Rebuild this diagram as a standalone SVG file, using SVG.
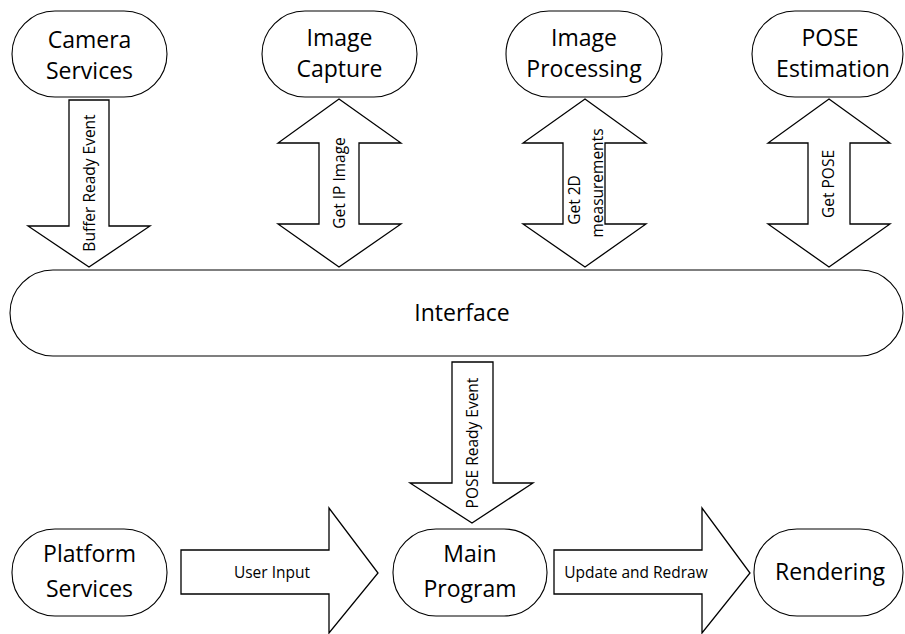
<svg xmlns="http://www.w3.org/2000/svg" width="905" height="634" viewBox="0 0 905 634">
<style>
.n{fill:#fff;stroke:#000;stroke-width:1.1}
.a{fill:#fff;stroke:#000;stroke-width:1.3;stroke-linejoin:miter}
.t{font-family:"Open Sans","Liberation Sans",sans-serif;font-size:23px;fill:#000;text-anchor:middle}
.l{font-family:"Open Sans","Liberation Sans",sans-serif;font-size:15.5px;fill:#000;text-anchor:middle}
</style>
<rect width="905" height="634" fill="#fff"/>
<g id="connectors">
<g id="buffer-ready">
<polygon class="a" points="69,100 109,100 109,226 150,226 89,267 28,226 69,226"/>
<text class="l" transform="translate(95,183) rotate(-90)">Buffer Ready Event</text>
</g>
<g id="get-ip-image">
<polygon class="a" points="339,99 401,143 359,143 359,224 401,224 339,267 278,224 319,224 319,143 278,143"/>
<text class="l" transform="translate(345,183) rotate(-90)">Get IP Image</text>
</g>
<g id="get-2d">
<polygon class="a" points="585,99 646,143 605,143 605,224 646,224 585,267 523,224 563,224 563,143 523,143"/>
<text class="l" transform="translate(580,200) rotate(-90)">Get 2D</text>
<text class="l" transform="translate(603,183) rotate(-90)">measurements</text>
</g>
<g id="get-pose">
<polygon class="a" points="829,99 890,143 850,143 850,224 890,224 829,267 768,224 808,224 808,143 768,143"/>
<text class="l" transform="translate(834,184) rotate(-90)">Get POSE</text>
</g>
<g id="pose-ready">
<polygon class="a" points="452,362 493,362 493,483 533,483 472,523 410,483 452,483"/>
<text class="l" transform="translate(478,443) rotate(-90)">POSE Ready Event</text>
</g>
<g id="user-input">
<polygon class="a" points="181,550 329,550 329,508 378,573 329,633 329,594 181,594"/>
<text class="l" x="272" y="578">User Input</text>
</g>
<g id="update-redraw">
<polygon class="a" points="554,550 702,550 702,508 750,573 702,633 702,594 554,594"/>
<text class="l" x="636" y="578">Update and Redraw</text>
</g>
</g>
<g id="camera-services">
<rect class="n" x="12" y="11" width="155" height="86" rx="43" ry="43"/>
<text class="t" x="89.5" y="48">Camera</text>
<text class="t" x="89.5" y="79">Services</text>
</g>
<g id="image-capture">
<rect class="n" x="262" y="11" width="155" height="86" rx="43" ry="43"/>
<text class="t" x="339.5" y="46">Image</text>
<text class="t" x="339.5" y="77">Capture</text>
</g>
<g id="image-processing">
<rect class="n" x="506" y="11" width="156" height="86" rx="43" ry="43"/>
<text class="t" x="584" y="46">Image</text>
<text class="t" x="584" y="77">Processing</text>
</g>
<g id="pose-estimation">
<rect class="n" x="752" y="11" width="151" height="86" rx="43" ry="43"/>
<text class="t" x="830" y="46">POSE</text>
<text class="t" x="833" y="77">Estimation</text>
</g>
<g id="interface">
<rect class="n" x="10" y="270" width="893" height="86" rx="43" ry="43"/>
<text class="t" x="462" y="321">Interface</text>
</g>
<g id="platform-services">
<rect class="n" x="12" y="529" width="155" height="87" rx="43" ry="43"/>
<text class="t" x="89.5" y="562">Platform</text>
<text class="t" x="89.5" y="597">Services</text>
</g>
<g id="main-program">
<rect class="n" x="393" y="529" width="154" height="87" rx="43" ry="43"/>
<text class="t" x="470" y="562">Main</text>
<text class="t" x="470" y="597">Program</text>
</g>
<g id="rendering">
<rect class="n" x="754" y="529" width="149" height="87" rx="43" ry="43"/>
<text class="t" x="830" y="580">Rendering</text>
</g>
</svg>
